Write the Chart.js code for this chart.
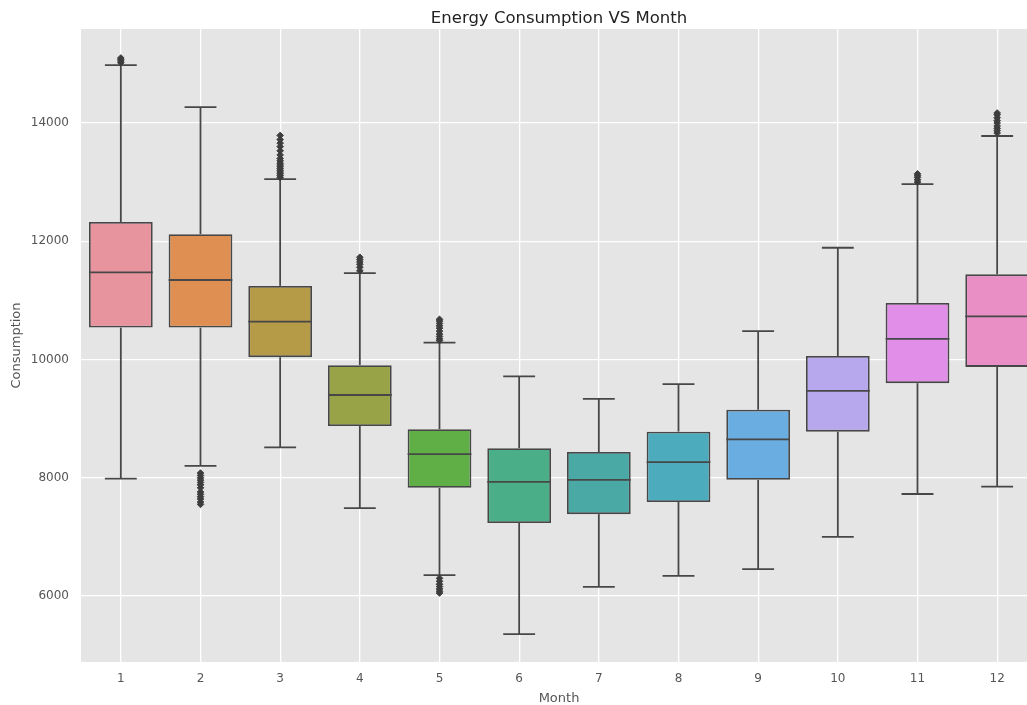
<!DOCTYPE html>
<html>
<head>
<meta charset="utf-8">
<script src="https://cdn.jsdelivr.net/npm/chart.js@4"></script>
<style>
  html, body { margin: 0; padding: 0; background: #ffffff; overflow: hidden; }
  #frame { width: 1027px; height: 705px; overflow: hidden; position: relative; }
  canvas { display: block; }
</style>
</head>
<body>
<div id="frame">
<canvas id="chart" width="1037" height="705"></canvas>
</div>
<script>
// Monthly energy consumption distribution (box plot summary per month)
const months = ['1', '2', '3', '4', '5', '6', '7', '8', '9', '10', '11', '12'];
const q1 = [10540, 10540, 10040, 8875, 7830, 7235, 7385, 7590, 7965, 8780, 9600, 9875];
const medians = [11475, 11345, 10640, 9400, 8400, 7930, 7965, 8265, 8650, 9470, 10350, 10730];
const q3 = [12325, 12120, 11245, 9905, 8820, 8500, 8435, 8780, 9150, 10060, 10955, 11440];
const whiskerLow = [7985, 8200, 8515, 7485, 6355, 5355, 6155, 6340, 6455, 7000, 7725, 7850];
const whiskerHigh = [14980, 14270, 13050, 11460, 10285, 9715, 9335, 9585, 10480, 11890, 12965, 13780];
const outliers = [
  [15020, 15050, 15080, 15100],
  [8080, 8040, 8000, 7960, 7920, 7880, 7830, 7760, 7720, 7680, 7640, 7590, 7550],
  [13080, 13110, 13140, 13170, 13200, 13230, 13260, 13290, 13320, 13360, 13400, 13460, 13530, 13600, 13660, 13720, 13790],
  [11500, 11560, 11610, 11650, 11690, 11730],
  [10320, 10350, 10390, 10430, 10480, 10530, 10570, 10610, 10650, 10680, 6300, 6250, 6200, 6160, 6120, 6080, 6050],
  [],
  [],
  [],
  [],
  [],
  [13000, 13040, 13080, 13110, 13140],
  [13830, 13870, 13910, 13950, 14000, 14040, 14090, 14140, 14170]
];
const yTicks = [6000, 8000, 10000, 12000, 14000];
const boxColors = ['#E8949F', '#E08F52', '#B59A48', '#98A246', '#5FAE46', '#4AAE88',
                   '#4AA8A5', '#4DABBE', '#6AADE0', '#B7A7EC', '#E08EE8', '#E98FC5'];

const EDGE = '#474747';
const LINE_W = 1.8;
const FONT = 'DejaVu Sans';

// Grey panel behind the plotting area
const plotBackground = {
  id: 'plotBackground',
  beforeDraw(chart) {
    const { ctx, chartArea: a } = chart;
    ctx.save();
    ctx.fillStyle = '#E5E5E5';
    ctx.fillRect(a.left, a.top, a.right - a.left, a.bottom - a.top);
    ctx.restore();
  }
};

// Whiskers, caps and median lines, positioned through the chart scales
const boxParts = {
  id: 'boxParts',
  beforeDatasetsDraw(chart) {
    const { ctx } = chart;
    const y = chart.scales.y;
    const bars = chart.getDatasetMeta(0).data;
    ctx.save();
    ctx.strokeStyle = EDGE;
    ctx.lineWidth = LINE_W;
    bars.forEach((bar, i) => {
      const cx = bar.x;
      const capHalf = bar.width / 4;
      const segs = [[q3[i], whiskerHigh[i]], [q1[i], whiskerLow[i]]];
      segs.forEach(([from, to]) => {
        ctx.beginPath();
        ctx.moveTo(cx, y.getPixelForValue(from));
        ctx.lineTo(cx, y.getPixelForValue(to));
        ctx.stroke();
        ctx.beginPath();
        ctx.moveTo(cx - capHalf, y.getPixelForValue(to));
        ctx.lineTo(cx + capHalf, y.getPixelForValue(to));
        ctx.stroke();
      });
    });
    ctx.restore();
  },
  afterDatasetsDraw(chart) {
    const { ctx } = chart;
    const y = chart.scales.y;
    const bars = chart.getDatasetMeta(0).data;
    ctx.save();
    ctx.strokeStyle = EDGE;
    ctx.lineWidth = LINE_W;
    bars.forEach((bar, i) => {
      const py = y.getPixelForValue(medians[i]);
      ctx.beginPath();
      ctx.moveTo(bar.x - bar.width / 2, py);
      ctx.lineTo(bar.x + bar.width / 2, py);
      ctx.stroke();
    });
    ctx.restore();
  }
};

const outlierPoints = [];
outliers.forEach((vals, i) => vals.forEach(v => outlierPoints.push({ x: months[i], y: v })));

new Chart(document.getElementById('chart'), {
  type: 'bar',
  data: {
    labels: months,
    datasets: [
      {
        type: 'bar',
        data: months.map((m, i) => [q1[i], q3[i]]),
        backgroundColor: boxColors,
        borderColor: EDGE,
        borderWidth: LINE_W,
        borderSkipped: false,
        barPercentage: 0.8,
        categoryPercentage: 1.0,
        order: 2
      },
      {
        type: 'line',
        data: outlierPoints,
        showLine: false,
        pointStyle: 'rectRot',
        pointRadius: 3.3,
        pointBackgroundColor: '#3d3d3d',
        pointBorderColor: '#3d3d3d',
        pointBorderWidth: 1,
        order: 1
      }
    ]
  },
  options: {
    responsive: false,
    animation: false,
    layout: { padding: 0, autoPadding: false },
    plugins: {
      legend: { display: false },
      tooltip: { enabled: false },
      title: {
        display: true,
        text: 'Energy Consumption VS Month',
        color: '#222222',
        fullSize: false,
        font: { family: FONT, size: 16.5, weight: 'normal', lineHeight: 1.2 },
        padding: { top: 8.4, bottom: 0.8 }
      }
    },
    scales: {
      x: {
        type: 'category',
        offset: true,
        border: { display: false },
        grid: { color: '#ffffff', lineWidth: 1.3, offset: false, drawTicks: false },
        ticks: { color: '#555555', font: { family: FONT, size: 12 }, padding: 10, maxRotation: 0 },
        title: {
          display: true, text: 'Month', color: '#555555',
          font: { family: FONT, size: 13, lineHeight: 1 }, padding: { top: 0, bottom: 0 }
        },
        afterFit(scale) { scale.height = 43; }
      },
      y: {
        min: 4884,
        max: 15590,
        border: { display: false },
        grid: { color: '#ffffff', lineWidth: 1.3, drawTicks: false },
        afterBuildTicks(scale) { scale.ticks = yTicks.map(v => ({ value: v })); },
        ticks: {
          color: '#555555', font: { family: FONT, size: 12 }, padding: 12,
          callback: v => String(v)
        },
        title: {
          display: true, text: 'Consumption', color: '#555555',
          font: { family: FONT, size: 13, lineHeight: 1 }, padding: { top: 10, bottom: 0 }
        },
        afterFit(scale) { scale.width = 81; }
      }
    }
  },
  plugins: [plotBackground, boxParts]
});
</script>
</body>
</html>
